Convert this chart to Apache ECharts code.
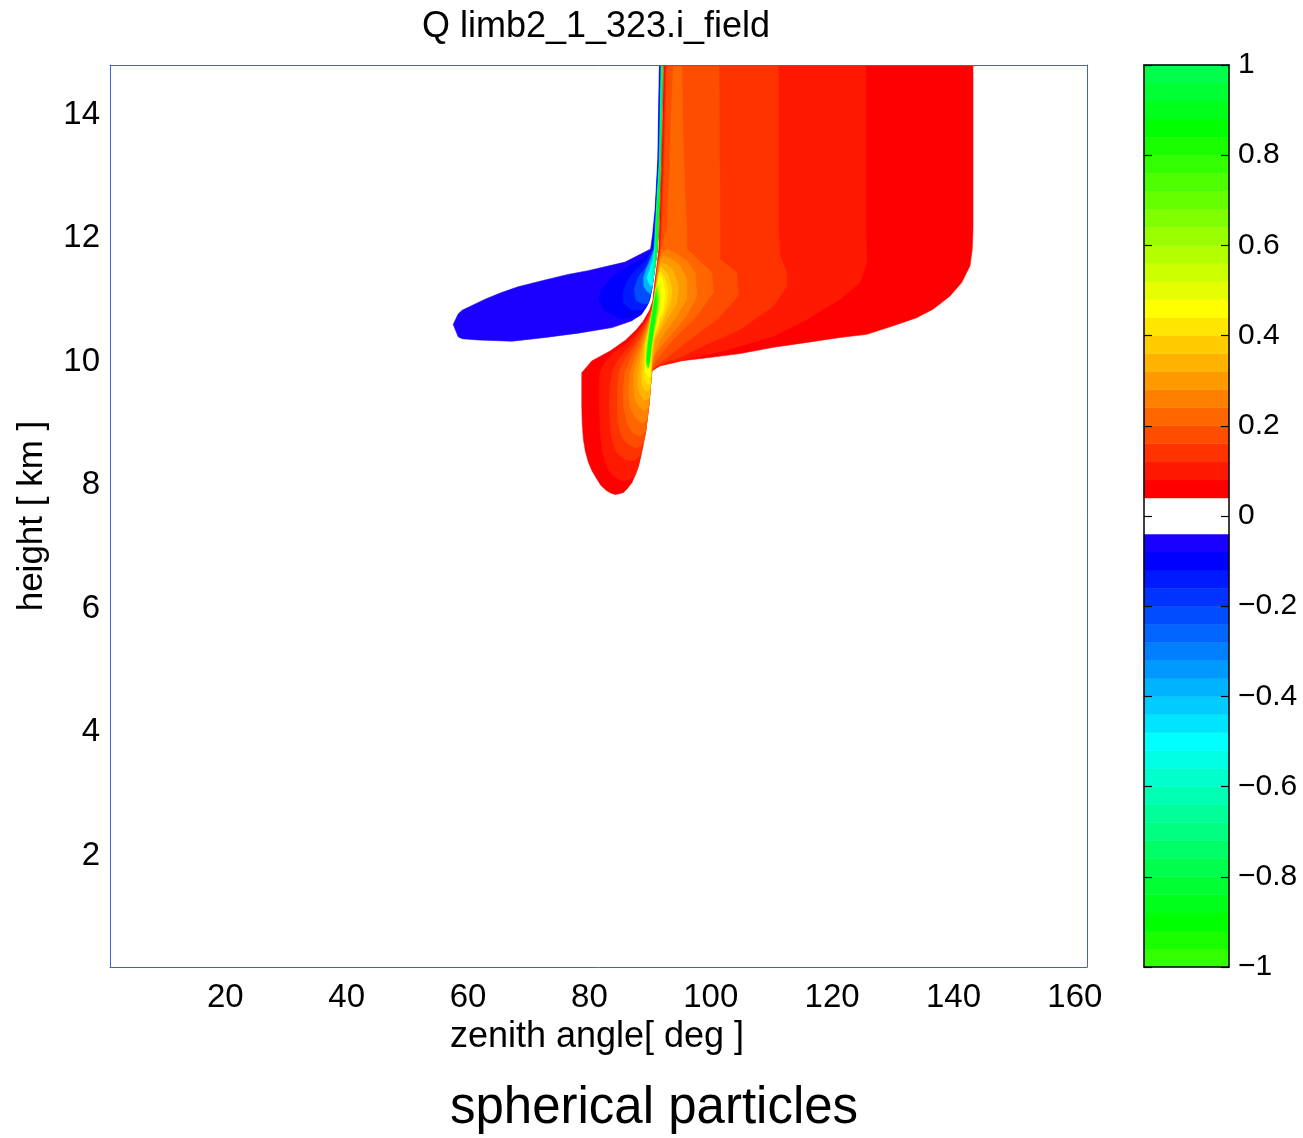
<!DOCTYPE html>
<html>
<head>
<meta http-equiv="content-type" content="text/html; charset=utf-8"/>
<title>Q limb2_1_323.i_field</title>
<style type="text/css">
    html, body { margin: 0; padding: 0; background: #fff; }
    #chart { width: 1303px; height: 1138px; }
</style>
<script type="text/javascript" src="https://cdn.jsdelivr.net/npm/echarts@6/dist/echarts.min.js"></script>
</head>
<body>
<div id="chart"></div>
<script>
    // axis ranges and ticks
    var xRange = [1, 162];
    var yRange = [0.2, 14.8];
    var xTicks = [20, 40, 60, 80, 100, 120, 140, 160];
    var yTicks = [2, 4, 6, 8, 10, 12, 14];
    var cbTicks = [-1, -0.8, -0.6, -0.4, -0.2, 0, 0.2, 0.4, 0.6, 0.8, 1];
    // contour levels (lower edge of each colour band)
    var cbLevels = [-1, -0.96, -0.92, -0.88, -0.84, -0.8, -0.76, -0.72, -0.68, -0.64,
        -0.6, -0.56, -0.52, -0.48, -0.44, -0.4, -0.36, -0.32, -0.28, -0.24,
        -0.2, -0.16, -0.12, -0.08, -0.04, 0, 0.04, 0.08, 0.12, 0.16,
        0.2, 0.24, 0.28, 0.32, 0.36, 0.4, 0.44, 0.48, 0.52, 0.56,
        0.6, 0.64, 0.68, 0.72, 0.76, 0.8, 0.84, 0.88, 0.92, 0.96];

    // contour outlines, [zenith angle deg, height km]
    // negative side (v <= level)
    var neg04 = [[91.53,14.8],[91.40,14.08],[91.27,13.27],[90.83,12.46],[90.42,12.06],[90.09,11.82],[85.89,11.61],[79.79,11.47],[76.50,11.41],[72.71,11.32],[68.26,11.21],[65.63,11.12],[62.83,11.01],[59.04,10.83],[58.38,10.77],[57.56,10.60],[58.38,10.40],[59.04,10.37],[61.67,10.35],[67.27,10.33],[72.71,10.39],[78.14,10.46],[83.75,10.55],[86.99,10.66],[88.64,10.77],[89.46,10.90],[89.92,11.01],[90.25,11.17],[90.50,11.33],[90.83,11.57],[91.16,11.82],[91.29,12.06],[91.48,12.46],[91.77,13.27],[91.90,14.08],[92.07,14.8]];
    var neg08 = [[91.62,14.8],[91.48,14.08],[91.34,13.27],[90.90,12.46],[90.55,12.06],[90.30,11.82],[89.18,11.69],[86.71,11.56],[83.91,11.38],[82.10,11.17],[81.52,11.01],[82.59,10.82],[85.34,10.69],[87.81,10.72],[88.39,10.75],[89.46,10.90],[89.92,11.01],[90.25,11.17],[90.50,11.33],[90.83,11.57],[91.16,11.82],[91.29,12.06],[91.48,12.46],[91.77,13.27],[91.90,14.08],[92.07,14.8]];
    var neg12 = [[91.69,14.8],[91.55,14.08],[91.38,13.27],[90.95,12.46],[90.65,12.06],[90.47,11.82],[89.18,11.62],[87.70,11.49],[86.38,11.33],[85.56,11.14],[85.56,10.96],[86.99,10.83],[88.52,10.84],[89.23,10.86],[89.46,10.90],[89.92,11.01],[90.25,11.17],[90.50,11.33],[90.83,11.57],[91.16,11.82],[91.29,12.06],[91.48,12.46],[91.77,13.27],[91.90,14.08],[92.07,14.8]];
    var neg20 = [[91.75,14.8],[91.62,14.08],[91.45,13.27],[90.99,12.46],[90.75,12.06],[90.60,11.82],[89.35,11.53],[88.03,11.36],[87.37,11.17],[87.70,10.99],[88.85,10.93],[89.71,10.94],[89.92,11.01],[90.25,11.17],[90.50,11.33],[90.83,11.57],[91.16,11.82],[91.29,12.06],[91.48,12.46],[91.77,13.27],[91.90,14.08],[92.07,14.8]];
    var neg36 = [[91.82,14.8],[91.69,14.08],[91.53,13.27],[91.04,12.46],[90.83,12.06],[90.70,11.82],[90.09,11.65],[89.35,11.49],[88.94,11.36],[88.94,11.23],[89.43,11.14],[90.09,11.10],[90.25,11.17],[90.50,11.33],[90.83,11.57],[91.16,11.82],[91.29,12.06],[91.48,12.46],[91.77,13.27],[91.90,14.08],[92.07,14.8]];
    var neg48 = [[91.87,14.8],[91.74,14.08],[91.60,13.27],[91.08,12.46],[90.88,12.06],[90.76,11.82],[90.42,11.62],[89.84,11.46],[89.51,11.36],[89.76,11.27],[90.32,11.21],[90.50,11.33],[90.83,11.57],[91.16,11.82],[91.29,12.06],[91.48,12.46],[91.77,13.27],[91.90,14.08],[92.07,14.8]];
    var neg60 = [[91.90,14.8],[91.77,14.08],[91.63,13.27],[91.11,12.46],[90.93,12.06],[90.83,11.82],[90.58,11.62],[90.25,11.46],[90.17,11.38],[90.42,11.31],[90.50,11.33],[90.83,11.57],[91.16,11.82],[91.29,12.06],[91.48,12.46],[91.77,13.27],[91.90,14.08],[92.07,14.8]];
    var neg72 = [[91.93,14.8],[91.80,14.08],[91.67,13.27],[91.14,12.46],[90.96,12.06],[90.88,11.82],[90.71,11.62],[90.58,11.49],[90.70,11.48],[90.83,11.57],[91.16,11.82],[91.29,12.06],[91.48,12.46],[91.77,13.27],[91.90,14.08],[92.07,14.8]];
    var neg88 = [[91.97,14.8],[91.83,14.08],[91.70,13.27],[91.18,12.46],[90.99,12.06],[90.93,11.82],[90.83,11.64],[90.90,11.61],[91.16,11.82],[91.29,12.06],[91.48,12.46],[91.77,13.27],[91.90,14.08],[92.07,14.8]];

    // positive side (v >= level)
    var pos04 = [[92.26,14.8],[143.21,14.8],[143.21,12.14],[143.09,11.82],[142.72,11.55],[141.35,11.28],[139.42,11.06],[136.67,10.85],[133.93,10.71],[130.08,10.58],[125.70,10.44],[121.30,10.39],[115.82,10.31],[110.32,10.23],[104.83,10.13],[99.35,10.06],[94.95,10.01],[91.65,9.93],[90.28,9.85],[90.14,9.71],[90.01,9.55],[89.81,9.31],[89.51,9.07],[89.26,8.87],[88.90,8.69],[88.52,8.50],[88.08,8.31],[87.54,8.16],[86.99,8.04],[86.30,7.95],[85.61,7.88],[84.90,7.86],[84.24,7.85],[83.58,7.87],[82.87,7.91],[81.93,7.99],[81.23,8.10],[80.45,8.23],[79.84,8.37],[79.34,8.55],[79.02,8.74],[78.82,9.00],[78.75,9.28],[78.75,9.82],[80.40,10.01],[83.42,10.17],[85.89,10.34],[87.70,10.51],[88.85,10.65],[89.92,10.83],[90.45,10.98],[90.75,11.25],[91.11,11.53],[91.44,11.82],[91.65,12.46],[91.87,13.11],[92.07,13.92]];
    var pos08 = [[92.48,14.8],[125.58,14.8],[125.58,12.14],[125.70,11.60],[124.60,11.28],[121.30,11.01],[115.82,10.68],[110.32,10.41],[102.08,10.17],[96.60,10.05],[93.84,9.98],[91.65,9.94],[90.28,9.85],[90.14,9.71],[90.01,9.55],[89.81,9.31],[89.51,9.07],[89.26,8.87],[88.90,8.69],[88.52,8.50],[88.08,8.31],[87.54,8.16],[86.90,8.11],[86.22,8.08],[85.45,8.07],[84.73,8.10],[83.95,8.15],[83.25,8.23],[82.70,8.35],[82.26,8.50],[81.95,8.70],[81.77,8.91],[81.65,9.28],[81.61,9.63],[81.77,9.83],[82.59,9.99],[84.07,10.15],[86.05,10.28],[87.86,10.47],[89.43,10.68],[90.09,10.83],[90.50,10.98],[90.80,11.25],[91.19,11.53],[91.57,11.82],[91.82,12.46],[92.03,13.11],[92.25,13.92]];
    var pos12 = [[92.64,14.8],[111.14,14.8],[111.14,12.14],[111.42,11.71],[112.52,11.44],[112.52,11.22],[110.32,10.90],[104.83,10.52],[99.35,10.28],[94.95,10.07],[92.76,10.00],[91.32,9.93],[90.28,9.85],[90.14,9.71],[90.01,9.55],[89.81,9.31],[89.51,9.07],[89.26,8.87],[88.90,8.69],[88.52,8.50],[87.95,8.44],[87.37,8.40],[86.62,8.40],[85.89,8.42],[85.10,8.47],[84.41,8.55],[83.90,8.68],[83.58,8.82],[83.38,9.05],[83.30,9.28],[83.42,9.63],[83.91,9.88],[85.06,10.07],[86.88,10.28],[88.36,10.49],[89.60,10.68],[90.17,10.83],[90.55,10.98],[90.85,11.25],[91.26,11.53],[91.69,11.82],[91.95,12.46],[92.18,13.11],[92.41,13.92]];
    var pos16 = [[92.81,14.8],[101.37,14.8],[101.53,12.14],[101.53,11.65],[104.29,11.44],[104.55,11.06],[100.99,10.68],[96.60,10.36],[91.65,9.98],[90.33,9.87],[90.14,9.71],[90.01,9.55],[89.81,9.31],[89.51,9.07],[89.26,8.87],[88.90,8.69],[88.40,8.63],[87.86,8.61],[87.20,8.62],[86.55,8.65],[85.90,8.71],[85.39,8.79],[84.98,8.90],[84.73,9.03],[84.62,9.28],[84.65,9.58],[84.90,9.83],[86.05,10.07],[87.54,10.28],[88.69,10.47],[89.73,10.68],[90.25,10.83],[90.58,10.98],[90.90,11.25],[91.32,11.53],[91.78,11.82],[92.11,12.46],[92.36,13.11],[92.58,13.92]];
    var pos20 = [[93.84,14.8],[95.23,14.8],[95.36,13.92],[95.61,13.11],[95.85,12.46],[96.05,12.14],[96.05,11.82],[100.17,11.44],[100.43,11.12],[97.70,10.74],[93.84,10.36],[91.11,10.04],[90.38,9.91],[90.25,9.84],[90.14,9.71],[90.01,9.55],[89.81,9.31],[89.51,9.07],[89.26,8.87],[88.36,8.79],[87.21,8.84],[86.22,9.00],[85.61,9.28],[85.56,9.55],[85.89,9.83],[86.88,10.07],[88.03,10.28],[89.02,10.49],[89.84,10.68],[90.33,10.83],[90.62,10.98],[90.95,11.25],[91.21,11.49],[91.40,11.62],[91.82,11.82],[92.81,12.14],[92.97,12.46],[93.22,13.11],[93.46,13.92]];
    var pos24 = [[92.64,11.81],[93.63,11.78],[96.05,11.63],[97.42,11.44],[97.70,11.06],[96.05,10.74],[92.76,10.36],[90.55,10.09],[90.33,9.94],[90.25,9.84],[90.14,9.71],[90.01,9.55],[89.81,9.31],[89.51,9.07],[88.69,9.00],[87.54,9.10],[86.71,9.26],[86.46,9.47],[86.55,9.68],[86.71,9.83],[87.54,10.07],[88.44,10.28],[89.26,10.49],[89.92,10.68],[90.38,10.83],[90.65,10.98],[90.99,11.25],[91.29,11.49],[91.57,11.65],[92.07,11.77]];
    var pos28 = [[92.23,11.71],[93.30,11.67],[94.95,11.55],[96.05,11.33],[96.05,11.01],[94.40,10.74],[91.65,10.36],[90.63,10.10],[90.33,9.94],[90.22,9.83],[90.14,9.71],[90.01,9.55],[89.78,9.28],[89.02,9.21],[88.03,9.28],[87.45,9.42],[87.29,9.63],[87.37,9.83],[88.03,10.07],[88.77,10.28],[89.43,10.49],[90.01,10.68],[90.43,10.83],[90.68,10.98],[91.04,11.25],[91.37,11.49],[91.74,11.64]];
    var pos32 = [[91.93,11.60],[92.81,11.56],[93.84,11.47],[94.67,11.22],[94.40,10.95],[92.76,10.68],[90.83,10.36],[90.42,10.09],[90.24,9.91],[90.14,9.71],[90.01,9.55],[89.89,9.42],[89.18,9.37],[88.36,9.46],[87.95,9.62],[88.03,9.83],[88.52,10.07],[89.02,10.28],[89.60,10.49],[90.07,10.68],[90.48,10.83],[90.71,10.98],[91.09,11.25],[91.44,11.46],[91.65,11.56]];
    var pos36 = [[91.74,11.53],[92.31,11.48],[92.97,11.40],[93.63,11.17],[93.30,10.93],[92.15,10.68],[90.67,10.36],[90.25,10.07],[90.17,9.88],[90.10,9.71],[90.01,9.55],[89.35,9.52],[88.69,9.60],[88.52,9.83],[88.85,10.07],[89.18,10.28],[89.68,10.49],[90.14,10.68],[90.53,10.83],[90.75,10.98],[91.14,11.25],[91.45,11.43]];
    var pos40 = [[91.57,11.46],[92.07,11.42],[92.48,11.33],[92.97,11.14],[92.64,10.89],[91.65,10.65],[90.50,10.36],[90.17,10.07],[90.10,9.84],[90.06,9.65],[89.51,9.63],[89.02,9.71],[88.94,9.83],[89.10,10.07],[89.35,10.28],[89.78,10.49],[90.19,10.68],[90.58,10.83],[90.78,10.98],[91.19,11.25],[91.37,11.38]];
    var pos44 = [[91.48,11.40],[91.90,11.36],[92.15,11.28],[92.48,11.09],[92.15,10.88],[91.32,10.64],[90.33,10.36],[90.06,10.07],[90.09,9.84],[90.10,9.75],[89.68,9.75],[89.26,9.83],[89.26,10.04],[89.43,10.28],[89.84,10.49],[90.24,10.68],[90.63,10.83],[90.81,10.98],[91.24,11.25],[91.32,11.33]];
    var pos48 = [[91.29,11.31],[91.69,11.20],[91.82,11.01],[91.48,10.81],[90.91,10.60],[90.25,10.36],[89.89,10.09],[89.76,9.91],[89.48,9.92],[89.40,10.12],[89.61,10.36],[90.10,10.65],[90.63,10.93],[90.96,11.17]];
    var pos56 = [[91.24,11.27],[91.57,11.14],[91.57,10.98],[91.24,10.77],[90.75,10.52],[90.25,10.28],[89.97,10.04],[89.76,9.89],[89.51,9.89],[89.31,10.04],[89.48,10.28],[89.76,10.49],[90.17,10.72],[90.50,10.93],[90.83,11.14]];
    var pos64 = [[91.13,11.20],[91.37,11.07],[91.32,10.91],[90.99,10.72],[90.58,10.49],[90.17,10.25],[89.92,10.04],[89.73,9.91],[89.55,9.91],[89.40,10.04],[89.56,10.25],[89.84,10.47],[90.25,10.72],[90.58,10.93],[90.88,11.10]];
    var pos72 = [[91.03,11.17],[91.27,11.04],[91.21,10.88],[90.91,10.68],[90.51,10.46],[90.17,10.23],[89.95,10.04],[89.73,9.91],[89.55,9.92],[89.40,10.04],[89.56,10.23],[89.88,10.46],[90.25,10.68],[90.59,10.88],[90.82,11.04]];
    var pos80 = [[90.98,11.12],[91.16,10.98],[91.00,10.81],[90.70,10.62],[90.39,10.41],[90.13,10.20],[89.92,10.00],[89.70,9.92],[89.46,10.00],[89.61,10.20],[89.89,10.41],[90.21,10.62],[90.50,10.81],[90.73,10.98]];
    var pos88 = [[90.83,11.05],[91.00,10.91],[90.78,10.75],[90.49,10.55],[90.25,10.36],[90.02,10.17],[89.85,10.00],[89.70,9.95],[89.62,10.00],[89.68,10.17],[89.85,10.36],[90.07,10.55],[90.35,10.75],[90.62,10.91]];

    // paint order: outermost level first, like contourf
    var contours = [
        {level: -0.04, pts: neg04}, {level: -0.08, pts: neg08}, {level: -0.12, pts: neg12},
        {level: -0.20, pts: neg20}, {level: -0.36, pts: neg36}, {level: -0.48, pts: neg48},
        {level: -0.60, pts: neg60}, {level: -0.72, pts: neg72}, {level: -0.88, pts: neg88},
        {level: 0.04, pts: pos04}, {level: 0.08, pts: pos08}, {level: 0.12, pts: pos12},
        {level: 0.16, pts: pos16}, {level: 0.20, pts: pos20}, {level: 0.24, pts: pos24},
        {level: 0.28, pts: pos28}, {level: 0.32, pts: pos32}, {level: 0.36, pts: pos36},
        {level: 0.40, pts: pos40}, {level: 0.44, pts: pos44}, {level: 0.48, pts: pos48},
        {level: 0.56, pts: pos56}, {level: 0.64, pts: pos64}, {level: 0.72, pts: pos72},
        {level: 0.80, pts: pos80}, {level: 0.88, pts: pos88}
    ];

    var font = '"Liberation Sans", Arial, Helvetica, sans-serif';
    var boxBlue = '#3d63d6';

    // colormap: hue runs 0..138 over the positive bands, 246..108 over the negative ones
    function hsvColor(h) {
        h = ((h % 360) + 360) % 360;
        var x = 1 - Math.abs((h / 60) % 2 - 1);
        var r, g, b;
        if (h < 60) { r = 1; g = x; b = 0; }
        else if (h < 120) { r = x; g = 1; b = 0; }
        else if (h < 180) { r = 0; g = 1; b = x; }
        else if (h < 240) { r = 0; g = x; b = 1; }
        else if (h < 300) { r = x; g = 0; b = 1; }
        else { r = 1; g = 0; b = x; }
        return 'rgb(' + Math.round(r * 255) + ',' + Math.round(g * 255) + ',' + Math.round(b * 255) + ')';
    }

    function bandColor(mid) {
        if (Math.abs(mid) < 0.04) return '#ffffff';
        var h = mid > 0 ? 150 * (mid - 0.06) : 240 + 150 * (mid + 0.10);
        return hsvColor(h);
    }

    function renderContour(params, api) {
        var c = contours[params.dataIndex];
        var pts = c.pts.map(function (p) { return api.coord(p); });
        var col = bandColor(c.level + (c.level > 0 ? 0.02 : -0.02));
        return {
            type: 'polygon',
            shape: {points: pts},
            style: {fill: col, stroke: col, lineWidth: 0.6}
        };
    }

    function renderBand(params, api) {
        var v = cbLevels[params.dataIndex];
        var p0 = api.coord([0, v + 0.04]);
        var p1 = api.coord([1, v]);
        var col = bandColor(v + 0.02);
        return {
            type: 'rect',
            shape: {x: p0[0], y: p0[1], width: p1[0] - p0[0], height: p1[1] - p0[1]},
            style: {fill: col, stroke: col, lineWidth: 0.5}
        };
    }

    function cbLabel(v) {
        var s = String(Math.round(v * 10) / 10);
        return s.replace('-', '\u2212');
    }

    var chart = echarts.init(document.getElementById('chart'));

    var option = {
        animation: false,
        backgroundColor: '#ffffff',
        grid: [
            {left: 110, right: 216, top: 65, bottom: 171, outerBoundsMode: 'none'},
            {left: 1144, right: 74, top: 65, bottom: 171, outerBoundsMode: 'none'}
        ],
        xAxis: [
            {
                type: 'value', gridIndex: 0, position: 'bottom', min: xRange[0], max: xRange[1], z: 10,
                axisLine: {show: true, onZero: false, lineStyle: {color: boxBlue, width: 1}},
                axisTick: {show: false},
                splitLine: {show: false},
                axisLabel: {customValues: xTicks, color: '#000', fontFamily: font, fontSize: 33, margin: 14}
            },
            {
                type: 'value', gridIndex: 0, position: 'top', min: xRange[0], max: xRange[1], z: 10,
                axisLine: {show: true, onZero: false, lineStyle: {color: boxBlue, width: 1}},
                axisTick: {show: false}, axisLabel: {show: false}, splitLine: {show: false}
            },
            {
                type: 'value', gridIndex: 1, position: 'bottom', min: 0, max: 1, z: 10,
                axisLine: {show: true, onZero: false, lineStyle: {color: '#000', width: 1.5}},
                axisTick: {show: false}, axisLabel: {show: false}, splitLine: {show: false}
            },
            {
                type: 'value', gridIndex: 1, position: 'top', min: 0, max: 1, z: 10,
                axisLine: {show: true, onZero: false, lineStyle: {color: '#000', width: 1.5}},
                axisTick: {show: false}, axisLabel: {show: false}, splitLine: {show: false}
            }
        ],
        yAxis: [
            {
                type: 'value', gridIndex: 0, position: 'left', min: yRange[0], max: yRange[1], z: 10,
                axisLine: {show: true, onZero: false, lineStyle: {color: boxBlue, width: 1}},
                axisTick: {show: false},
                splitLine: {show: false},
                axisLabel: {customValues: yTicks, color: '#000', fontFamily: font, fontSize: 33, margin: 10, padding: [9, 0, 0, 0]}
            },
            {
                type: 'value', gridIndex: 0, position: 'right', min: yRange[0], max: yRange[1], z: 10,
                axisLine: {show: true, onZero: false, lineStyle: {color: boxBlue, width: 1}},
                axisTick: {show: false}, axisLabel: {show: false}, splitLine: {show: false}
            },
            {
                type: 'value', gridIndex: 1, position: 'right', min: -1, max: 1, interval: 0.2, z: 10,
                axisLine: {show: true, onZero: false, lineStyle: {color: '#000', width: 1.5}},
                axisTick: {show: true, inside: true, length: 8, lineStyle: {color: '#000', width: 1.2}},
                splitLine: {show: false},
                axisLabel: {
                    customValues: cbTicks, showMinLabel: true, showMaxLabel: true,
                    color: '#000', fontFamily: font, fontSize: 30, margin: 9, padding: [8, 0, 0, 0],
                    formatter: cbLabel
                }
            },
            {
                type: 'value', gridIndex: 1, position: 'left', min: -1, max: 1, interval: 0.2, z: 10,
                axisLine: {show: true, onZero: false, lineStyle: {color: '#000', width: 1.5}},
                axisTick: {show: true, inside: true, length: 8, lineStyle: {color: '#000', width: 1.2}},
                splitLine: {show: false}, axisLabel: {show: false}
            }
        ],
        graphic: [
            {type: 'text', x: 596, y: 27, style: {text: 'Q limb2_1_323.i_field', font: '36px ' + font, fill: '#000', align: 'center', verticalAlign: 'middle', textAlign: 'center', textVerticalAlign: 'middle'}},
            {type: 'text', x: 597, y: 1037, style: {text: 'zenith angle[ deg ]', font: '36px ' + font, fill: '#000', align: 'center', verticalAlign: 'middle', textAlign: 'center', textVerticalAlign: 'middle'}},
            {type: 'text', x: 32, y: 516, rotation: Math.PI / 2, style: {text: 'height [ km ]', font: '35px ' + font, fill: '#000', align: 'center', verticalAlign: 'middle', textAlign: 'center', textVerticalAlign: 'middle'}},
            {type: 'text', x: 654, y: 1109, style: {text: 'spherical particles', font: '51px ' + font, fill: '#000', align: 'center', verticalAlign: 'middle', textAlign: 'center', textVerticalAlign: 'middle'}}
        ],
        series: [
            {
                type: 'custom', name: 'field', xAxisIndex: 0, yAxisIndex: 0,
                data: contours.map(function (c) { return [c.level]; }),
                renderItem: renderContour, silent: true, clip: true
            },
            {
                type: 'custom', name: 'colorbar', xAxisIndex: 2, yAxisIndex: 2,
                data: cbLevels.map(function (v) { return [v]; }),
                renderItem: renderBand, silent: true
            }
        ]
    };

    chart.setOption(option);
</script>
</body>
</html>
